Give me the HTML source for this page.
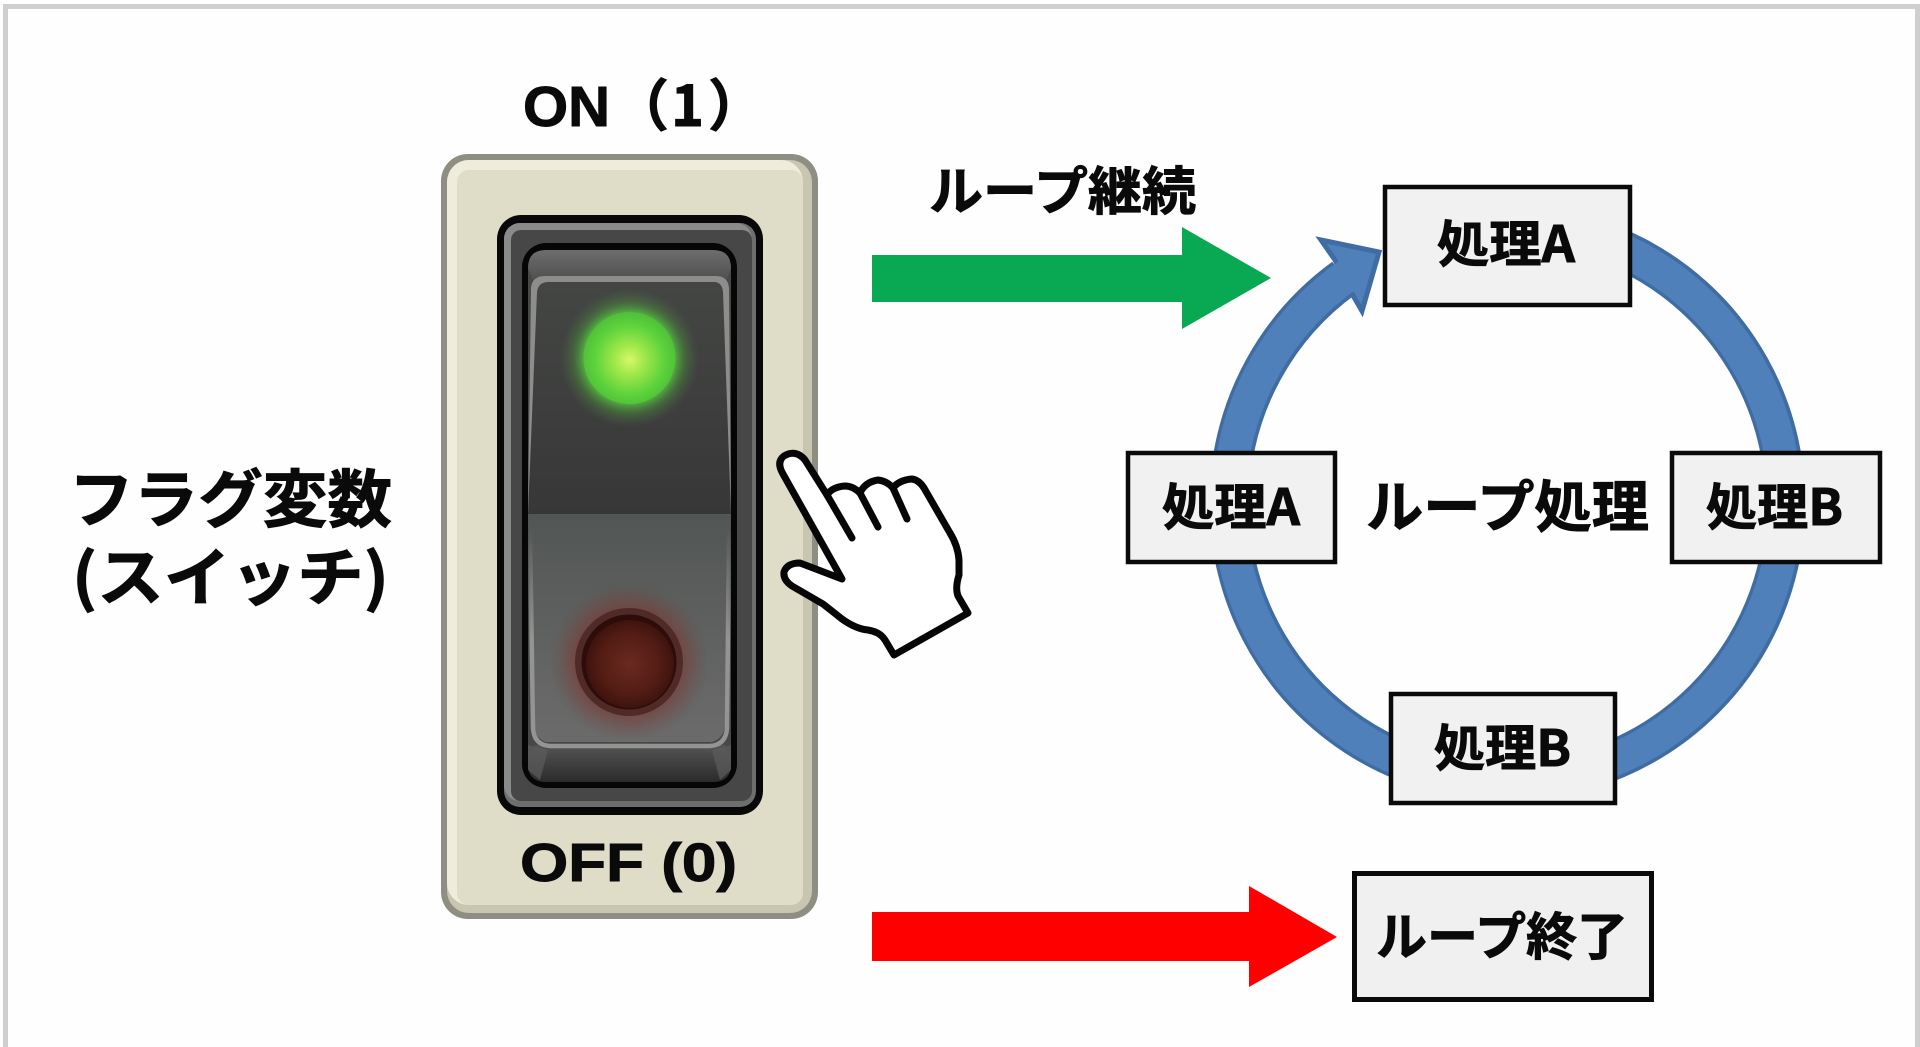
<!DOCTYPE html>
<html lang="ja">
<head>
<meta charset="utf-8">
<title>フラグ変数とループ処理</title>
<style>
html,body{margin:0;padding:0;background:#fff;width:1920px;height:1047px;overflow:hidden}
svg{display:block}
text{font-family:"Liberation Sans","Noto Sans CJK JP",sans-serif;font-weight:bold;fill:#0a0a0a;stroke:#0a0a0a;stroke-width:.9px}
.j{font-family:"Noto Sans CJK JP","Liberation Sans",sans-serif;font-weight:bold}
</style>
</head>
<body>
<svg width="1920" height="1047" viewBox="0 0 1920 1047" xmlns="http://www.w3.org/2000/svg">
<defs>
<radialGradient id="gGlow"><stop offset="0.66" stop-color="#55c040" stop-opacity=".8"/><stop offset="0.8" stop-color="#4c8f3c" stop-opacity=".45"/><stop offset="1" stop-color="#4a6a44" stop-opacity="0"/></radialGradient>
<radialGradient id="gLed" cx="50%" cy="52%" r="55%"><stop offset="0" stop-color="#d8f76a"/><stop offset=".3" stop-color="#9fe84a"/><stop offset=".7" stop-color="#5cd23c"/><stop offset="1" stop-color="#4cbb38"/></radialGradient>
<radialGradient id="rGlow"><stop offset="0.6" stop-color="#82302a" stop-opacity=".7"/><stop offset="1" stop-color="#6a4a44" stop-opacity="0"/></radialGradient>
<radialGradient id="rLed"><stop offset="0" stop-color="#6a2a20"/><stop offset=".7" stop-color="#521c14"/><stop offset="1" stop-color="#3e130e"/></radialGradient>
<linearGradient id="upper" x1="0" y1="0" x2="0" y2="1"><stop offset="0" stop-color="#444644"/><stop offset="1" stop-color="#373737"/></linearGradient>
<linearGradient id="lower" x1="0" y1="0" x2="0" y2="1"><stop offset="0" stop-color="#525654"/><stop offset="1" stop-color="#6b6b6b"/></linearGradient>
<linearGradient id="capTop" x1="0" y1="0" x2="0" y2="1"><stop offset="0" stop-color="#6e6e6e"/><stop offset="1" stop-color="#4a4a4a"/></linearGradient>
<linearGradient id="capBot" x1="0" y1="0" x2="0" y2="1"><stop offset="0" stop-color="#555"/><stop offset="1" stop-color="#2b2b2b"/></linearGradient>
<linearGradient id="faceLine" gradientUnits="userSpaceOnUse" x1="0" y1="530" x2="0" y2="640"><stop offset="0" stop-color="#949492" stop-opacity="0"/><stop offset="1" stop-color="#949492"/></linearGradient>
</defs>

<!-- page -->
<rect width="1920" height="1047" fill="#fefefe"/>
<rect x="0" y="0" width="1920" height="4" fill="#fff"/>
<rect x="3" y="4" width="1917" height="5" fill="#cfcfcf"/>
<rect x="3" y="4" width="5" height="1043" fill="#cfcfcf"/>
<rect x="1915" y="4" width="5" height="1043" fill="#cfcfcf"/>

<!-- plate -->
<rect x="441" y="154" width="377" height="765" rx="27" fill="#8e8e82"/>
<rect x="447" y="160" width="365" height="753" rx="22" fill="#c8c5b0"/>
<rect x="447" y="160" width="356" height="745" rx="22" fill="#eeecdb"/>
<rect x="457" y="170" width="346" height="735" rx="12" fill="#dfdcc8"/>

<!-- bezel -->
<rect x="497" y="215" width="266" height="600" rx="24" fill="#080808"/>
<rect x="504" y="223" width="252" height="584" rx="16" fill="#6e6e6e"/>
<rect x="504" y="223" width="248" height="578" rx="16" fill="#8a8a8a"/>
<rect x="511" y="230" width="241" height="571" rx="10" fill="#474747"/>

<!-- rocker -->
<rect x="522" y="243" width="215" height="545" rx="24" fill="#060606"/>
<rect x="528" y="250" width="203" height="532" rx="18" fill="#484848"/>
<path d="M546 250 H713 Q731 250 731 268 L725 285 H535 L528 268 Q528 250 546 250Z" fill="url(#capTop)"/>
<path d="M535 745 H725 L731 764 Q731 782 713 782 H546 Q528 782 528 764Z" fill="url(#capBot)"/>
<path d="M528 745 L548 750 L540 780 L528 770Z M731 745 L712 750 L720 780 L731 770Z" fill="#5c5c5c" opacity=".7"/>

<!-- face -->
<path d="M545 276 H716 Q728 276 729 288 L731 514 H528 L531 288 Q532 276 545 276Z" fill="#8d8d8b"/>
<path d="M549 282 H714 Q722 282 723 292 L731 514 H528 L537 292 Q538 282 549 282Z" fill="url(#upper)"/>
<path d="M528 514 H731 L725 725 Q724 738 712 742 H546 Q535 738 534 725Z" fill="url(#lower)"/>
<path d="M530 530 L533 728 Q534 745 550 746 H710 Q726 745 727 728 L729 530" fill="none" stroke="url(#faceLine)" stroke-width="4.5"/>

<!-- LEDs -->
<circle cx="629.5" cy="358" r="70" fill="url(#gGlow)"/>
<circle cx="629.5" cy="358" r="46" fill="url(#gLed)"/>
<circle cx="629" cy="662" r="80" fill="url(#rGlow)"/>
<circle cx="629" cy="662" r="54" fill="#4f2a26"/>
<circle cx="629" cy="662" r="47.5" fill="#2e0c0a"/>
<circle cx="630" cy="664" r="44" fill="url(#rLed)"/>

<!-- hand -->
<path d="M783 474 Q776 462 784 456 Q796 449 805 460 L827 495 Q832 487 845 486 Q853 486 860 493 Q865 482 878 480 Q887 481 893 488 Q899 480 912 479 Q919 480 924 488 L950 533 Q958 546 959 560 L959 575 Q955 588 958 596 L968 613 L894 655 L885 640 Q880 632 868 630 Q856 629 842 619 Q832 611 823 604 L792 586 Q783 580 784 572 Q787 563 800 563 L842 579Z" fill="#fff" stroke="#060606" stroke-width="7" stroke-linejoin="round"/>
<path d="M827 495 L852 538 M860 493 L878 527 M893 488 L907 519" fill="none" stroke="#060606" stroke-width="7" stroke-linecap="round"/>

<!-- switch labels -->
<text x="523" y="126" font-size="57" textLength="87" lengthAdjust="spacingAndGlyphs">ON</text>
<text class="j" x="613 671 708" y="126" font-size="56">（1）</text>
<text x="520" y="881" font-size="54" textLength="217" lengthAdjust="spacingAndGlyphs">OFF (0)</text>

<!-- left label -->
<text class="j" x="69" y="522" font-size="63" textLength="323" lengthAdjust="spacingAndGlyphs">フラグ変数</text>
<text class="j" x="72" y="600" font-size="63" textLength="317" lengthAdjust="spacingAndGlyphs">(スイッチ)</text>

<!-- continue arrow -->
<text class="j" x="929" y="210" font-size="52" textLength="267" lengthAdjust="spacingAndGlyphs">ループ継続</text>
<polygon points="872,255 1182,255 1182,227 1271,278 1182,329 1182,302 872,302" fill="#09a852"/>

<!-- end arrow -->
<polygon points="872,912 1249,912 1249,886 1337,937 1249,987 1249,961 872,961" fill="#fe0000"/>
<rect x="1354.5" y="873.5" width="297" height="126" fill="#f0f0f0" stroke="#0a0a0a" stroke-width="5"/>
<text class="j" x="1376" y="955" font-size="51" textLength="252" lengthAdjust="spacingAndGlyphs">ループ終了</text>

<!-- loop ring -->
<path d="M1344 278 A278 278 0 1 0 1520 225.3" fill="none" stroke="#3f6da3" stroke-width="40"/>
<polygon points="1321,240 1379,252 1362,311 1351,292 1335,260" fill="#4f80b9" stroke="#3f6da3" stroke-width="5" stroke-linejoin="miter"/>
<path d="M1349 274.3 A278 278 0 1 0 1520 225.3" fill="none" stroke="#4f80b9" stroke-width="33"/>

<!-- process boxes -->
<g fill="#f1f1f1" stroke="#0a0a0a" stroke-width="4.5">
<rect x="1385" y="187" width="245" height="118"/>
<rect x="1128" y="453" width="207" height="109"/>
<rect x="1672" y="453" width="208" height="109"/>
<rect x="1391" y="694" width="224" height="109"/>
</g>
<text class="j" x="1437" y="262" font-size="50" textLength="138" lengthAdjust="spacingAndGlyphs">処理A</text>
<text class="j" x="1162" y="525" font-size="50" textLength="138" lengthAdjust="spacingAndGlyphs">処理A</text>
<text class="j" x="1706" y="525" font-size="50" textLength="137" lengthAdjust="spacingAndGlyphs">処理B</text>
<text class="j" x="1434" y="766" font-size="50" textLength="137" lengthAdjust="spacingAndGlyphs">処理B</text>
<text class="j" x="1366" y="527" font-size="56" textLength="283" lengthAdjust="spacingAndGlyphs">ループ処理</text>
</svg>
</body>
</html>
